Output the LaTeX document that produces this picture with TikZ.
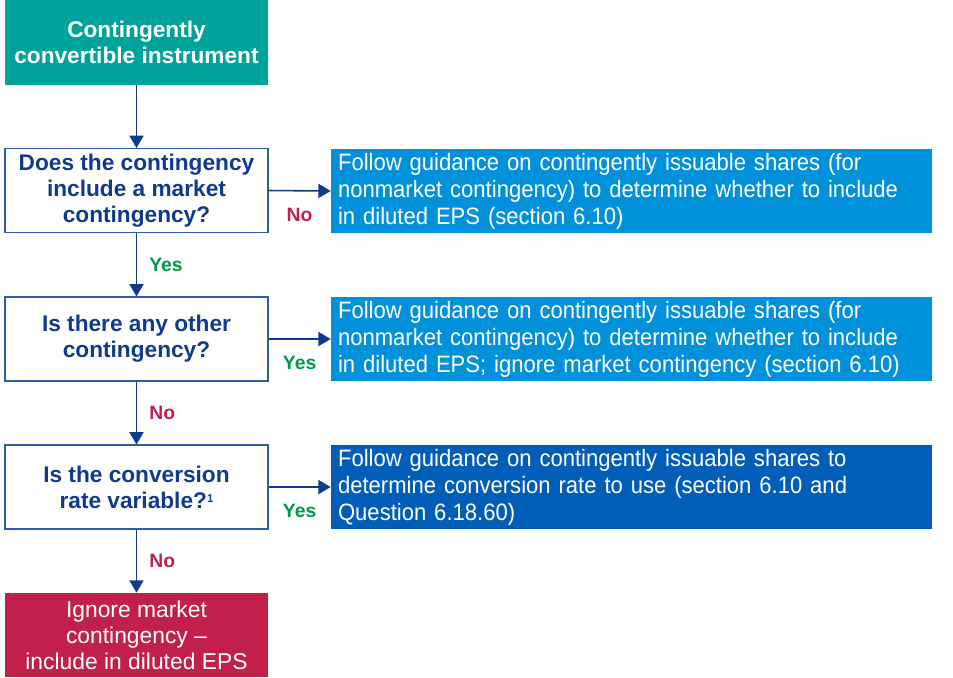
\documentclass[tikz,border=0pt]{standalone}
\usepackage{fontspec}
\setmainfont{Liberation Sans}
\newfontfamily\guidefont[FakeStretch=0.93]{Liberation Sans}
\usetikzlibrary{arrows.meta}

\definecolor{startteal}{RGB}{0,163,156}
\definecolor{guideblue}{RGB}{0,145,218}
\definecolor{guidedark}{RGB}{0,94,184}
\definecolor{endred}{RGB}{193,32,74}
\definecolor{qnavy}{RGB}{16,58,140}
\definecolor{qborder}{RGB}{46,92,168}
\definecolor{yesgreen}{RGB}{0,154,68}

\begin{document}
\begin{tikzpicture}[
    x=0.02cm, y=-0.02cm,
    start/.style={fill=startteal, text=white, font=\fontsize{12.9}{14.8}\selectfont\bfseries,
      minimum width=5.26cm, minimum height=1.7cm, align=center, inner sep=0pt},
    question/.style={draw=qborder, line width=0.6pt, fill=white, text=qnavy,
      font=\fontsize{12.9}{14.8}\selectfont\bfseries,
      minimum width=5.26cm, minimum height=1.68cm, align=center, inner sep=0pt},
    guide/.style={fill=guideblue, text=white, font=\guidefont\fontsize{13.5}{15.4}\selectfont,
      text width=11.74cm, minimum height=1.68cm, align=left, inner xsep=0.14cm, inner ysep=0pt},
    finish/.style={fill=endred, text=white, font=\fontsize{13}{14.8}\selectfont,
      minimum width=5.26cm, minimum height=1.68cm, align=center, inner sep=0pt},
    arrow/.style={-{Triangle[length=7pt, width=8pt]}, draw=qnavy, line width=0.9pt},
    yes/.style={text=yesgreen, font=\fontsize{11}{13}\selectfont\bfseries},
    no/.style={text=endred, font=\fontsize{11}{13}\selectfont\bfseries}
]
\useasboundingbox (0,0) rectangle (953,677);

% left column
\node[start] (instr) at (136.5,42.5) {Contingently\\convertible instrument};
\node[question] (marketq) at (136.5,190.5) {Does the contingency\\include a market\\contingency?};
\node[question] (otherq) at (136.5,339) {Is there any other\\contingency?};
\node[question] (rateq) at (136.5,487) {Is the conversion\\rate variable?\raisebox{0.45ex}{\fontsize{6.5}{8}\selectfont 1}};
\node[finish] (ignore) at (136.5,635) {Ignore market\\contingency --\\include in diluted EPS};

% right column
\node[guide] (nonmkt) at (631.5,191) {Follow guidance on contingently issuable shares (for\\nonmarket contingency) to determine whether to include\\in diluted EPS (section 6.10)};
\node[guide] (ignoremkt) at (631.5,339) {Follow guidance on contingently issuable shares (for\\nonmarket contingency) to determine whether to include\\in diluted EPS; ignore market contingency (section 6.10)};
\node[guide, fill=guidedark] (convrate) at (631.5,487) {Follow guidance on contingently issuable shares to\\determine conversion rate to use (section 6.10 and\\Question 6.18.60)};

% connectors
\draw[arrow] (instr) -- (marketq);
\draw[arrow] (marketq) -- node[yes, right=3.5pt] {Yes} (otherq);
\draw[arrow] (otherq) -- node[no, right=3.5pt] {No} (rateq);
\draw[arrow] (rateq) -- node[no, right=3.5pt] {No} (ignore);
\draw[arrow] (marketq.east) -- node[no, below=6pt] {No} (nonmkt.west);
\draw[arrow] (otherq.east) -- node[yes, below=6pt] {Yes} (ignoremkt.west);
\draw[arrow] (rateq.east) -- node[yes, below=6pt] {Yes} (convrate.west);
\end{tikzpicture}
\end{document}
